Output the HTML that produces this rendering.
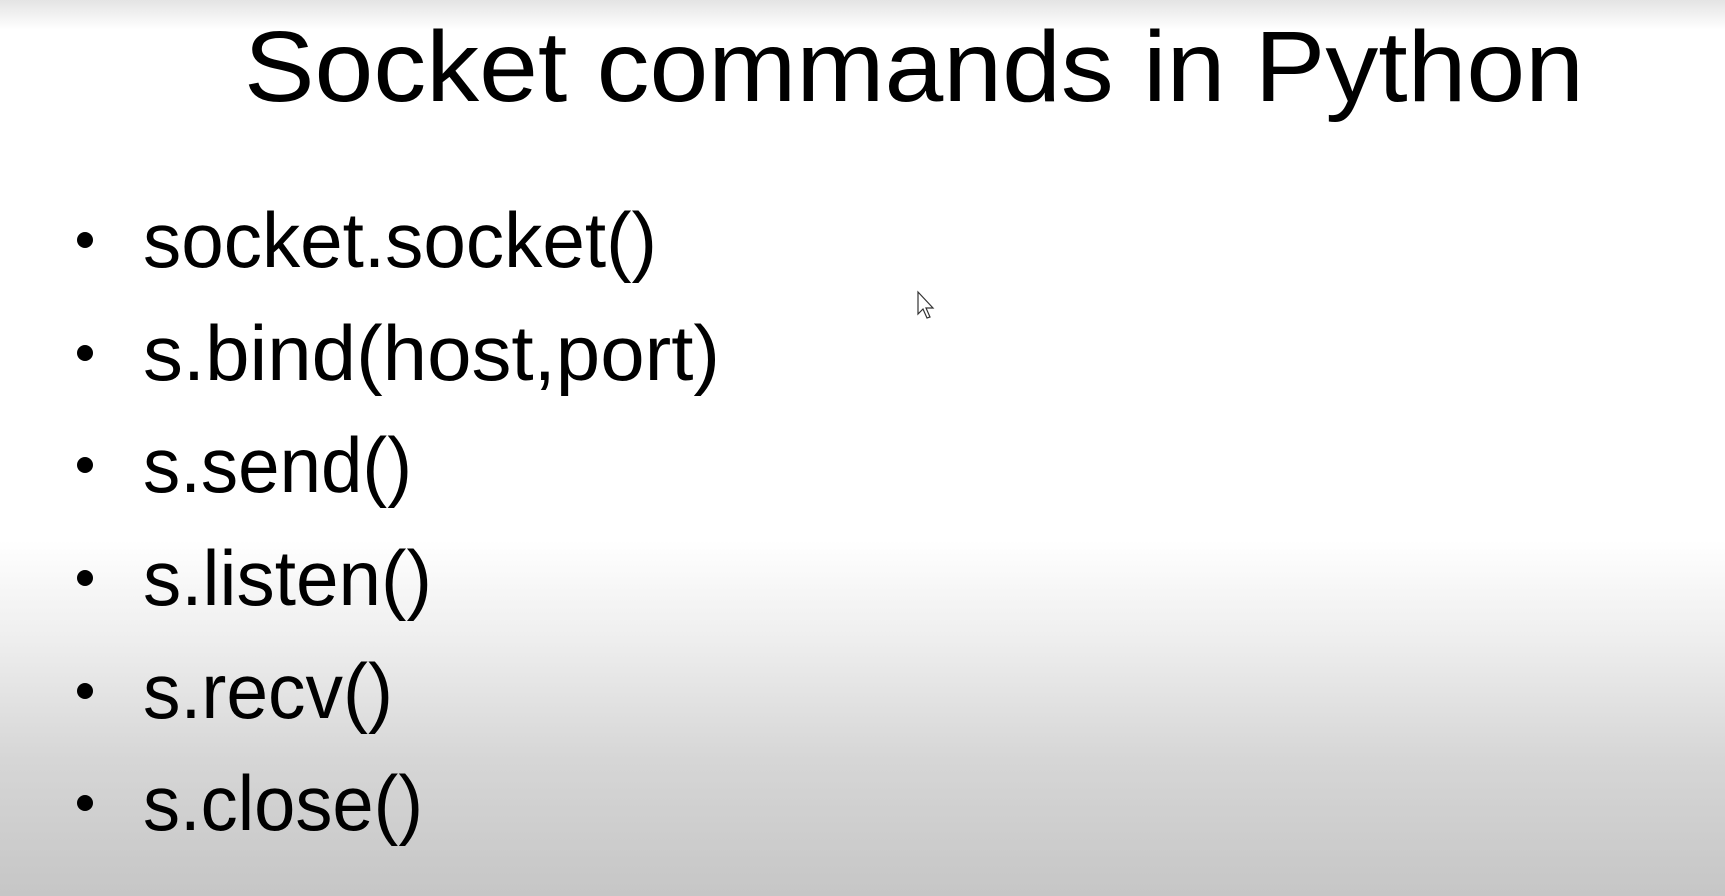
<!DOCTYPE html>
<html><head><meta charset="utf-8"><style>
html,body{margin:0;padding:0;width:1725px;height:896px;overflow:hidden}
body{background:linear-gradient(to bottom,#e4e4e4 0px,#ffffff 30px,#ffffff 540px,#eeeeee 640px,#d6d6d6 760px,#c6c6c6 896px)}
svg{position:absolute;left:0;top:0}
text{font-family:"Liberation Sans",sans-serif;fill:#000}
</style></head><body>
<svg width="1725" height="896" viewBox="0 0 1725 896">
<text x="244" y="101" font-size="100" textLength="1340" lengthAdjust="spacingAndGlyphs">Socket commands in Python</text>
<g font-size="78">
<circle cx="85" cy="240" r="8"/><text x="143" y="267" textLength="514" lengthAdjust="spacingAndGlyphs">socket.socket()</text>
<circle cx="85" cy="353" r="8"/><text x="143" y="380" textLength="577" lengthAdjust="spacingAndGlyphs">s.bind(host,port)</text>
<circle cx="85" cy="465" r="8"/><text x="143" y="492" textLength="269" lengthAdjust="spacingAndGlyphs">s.send()</text>
<circle cx="85" cy="578" r="8"/><text x="143" y="605" textLength="289" lengthAdjust="spacingAndGlyphs">s.listen()</text>
<circle cx="85" cy="691" r="8"/><text x="143" y="718" textLength="250" lengthAdjust="spacingAndGlyphs">s.recv()</text>
<circle cx="85" cy="803" r="8"/><text x="143" y="830" textLength="280" lengthAdjust="spacingAndGlyphs">s.close()</text>
</g>
<path d="M918 292 L918 314 L923 309 L927 318 L930 317 L926 308 L933 308 Z" fill="#fff" stroke="#333" stroke-width="1.2"/>
</svg>
</body></html>
